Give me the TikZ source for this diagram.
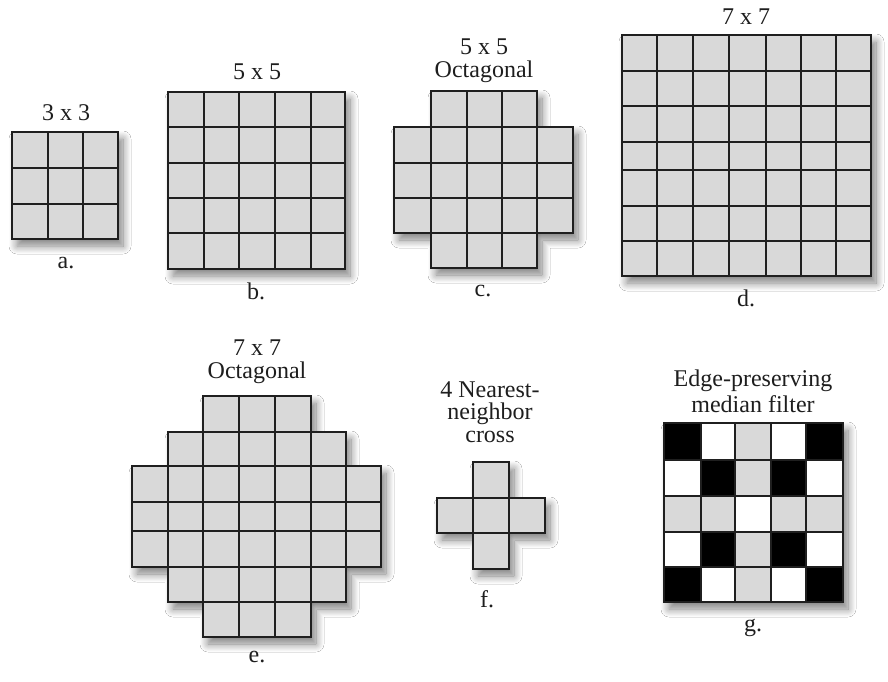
\documentclass[tikz,border=0pt]{standalone}
\usepackage{fontspec}
\setmainfont{Liberation Serif}
\usetikzlibrary{shadows.blur}
\definecolor{cellgray}{RGB}{217,217,217}
\definecolor{txt}{RGB}{30,30,30}
\begin{document}
\begin{tikzpicture}[x=1pt,y=-1pt,
  gridline/.style={line width=2.2pt, draw=black!88, line cap=rect},
  cellfill/.style={fill=cellgray},
  shade/.style={blur shadow={shadow xshift=5pt, shadow yshift=-7pt, shadow blur radius=8pt, shadow blur steps=12, shadow opacity=50}},
  lbl/.style={font=\fontsize{24}{26}\selectfont, text=txt, inner sep=0pt}]
\useasboundingbox (0,0) rectangle (888,681);
\fill[white] (0,0) rectangle (888,681);

% a. 3x3
\fill[cellfill,shade] (12,132) rectangle (118,239);
\foreach \x in {48,83} \draw[gridline] (\x,132) -- (\x,239);
\foreach \y in {168,204} \draw[gridline] (12,\y) -- (118,\y);
\draw[gridline] (12,132) rectangle (118,239);
\node[lbl] (ta) at (66,113) {3 x 3};
\node[lbl] (la) at (66,263) {a.};

% b. 5x5
\fill[cellfill,shade] (168,92) rectangle (345,269);
\foreach \x in {204,239,275,311} \draw[gridline] (\x,92) -- (\x,269);
\foreach \y in {127,163,198,233} \draw[gridline] (168,\y) -- (345,\y);
\draw[gridline] (168,92) rectangle (345,269);
\node[lbl] (tb) at (257,72) {5 x 5};
\node[lbl] (lb) at (256,291) {b.};

% c. 5x5 octagonal
\def\octc{(431,91) -- (537,91) -- (537,127) -- (573,127) -- (573,233) -- (537,233) -- (537,268) -- (431,268) -- (431,233) -- (394,233) -- (394,127) -- (431,127) -- cycle}
\fill[cellfill,shade] \octc;
\begin{scope}
\clip \octc;
\foreach \x in {431,467,502,537} \draw[gridline] (\x,91) -- (\x,268);
\foreach \y in {127,163,198,233} \draw[gridline] (394,\y) -- (573,\y);
\end{scope}
\draw[gridline, line join=miter] \octc;
\node[lbl] (tc1) at (484,47) {5 x 5};
\node[lbl] (tc2) at (484,72) {Octagonal};
\node[lbl] (lc) at (483,291) {c.};

% d. 7x7
\fill[cellfill,shade] (622,35) rectangle (871,276);
\foreach \x in {657,693,729,766,801,836} \draw[gridline] (\x,35) -- (\x,276);
\foreach \y in {71,106,142,170,206,241} \draw[gridline] (622,\y) -- (871,\y);
\draw[gridline] (622,35) rectangle (871,276);
\node[lbl] (td) at (746,17) {7 x 7};
\node[lbl] (ld) at (746,298) {d.};

% e. 7x7 octagonal
\def\octe{(203,396) -- (311,396) -- (311,432) -- (346,432) -- (346,466) -- (381,466) -- (381,567) -- (346,567) -- (346,602) -- (311,602) -- (311,637) -- (203,637) -- (203,602) -- (168,602) -- (168,567) -- (132,567) -- (132,466) -- (168,466) -- (168,432) -- (203,432) -- cycle}
\fill[cellfill,shade] \octe;
\begin{scope}
\clip \octe;
\foreach \x in {168,203,239,275,311,346} \draw[gridline] (\x,396) -- (\x,637);
\foreach \y in {432,466,502,531,567,602} \draw[gridline] (132,\y) -- (381,\y);
\end{scope}
\draw[gridline, line join=miter] \octe;
\node[lbl] (te1) at (257,348) {7 x 7};
\node[lbl] (te2) at (257,373) {Octagonal};
\node[lbl] (le) at (257,657) {e.};

% f. cross
\def\crossf{(473,462) -- (509,462) -- (509,498) -- (545,498) -- (545,533) -- (509,533) -- (509,569) -- (473,569) -- (473,533) -- (437,533) -- (437,498) -- (473,498) -- cycle}
\fill[cellfill,shade] \crossf;
\draw[gridline] (473,498) -- (473,533);
\draw[gridline] (509,498) -- (509,533);
\draw[gridline] (473,498) -- (509,498);
\draw[gridline] (473,533) -- (509,533);
\draw[gridline, line join=miter] \crossf;
\node[lbl] (tf1) at (490,390) {4 Nearest-};
\node[lbl] (tf2) at (490,414) {neighbor};
\node[lbl] (tf3) at (490,437) {cross};
\node[lbl] (lf) at (487,599) {f.};

% g. edge-preserving median filter
\fill[cellfill,shade] (664,423) rectangle (843,602);
\fill[black] (664,423) rectangle (701,460) (806,423) rectangle (843,460)
  (701,460) rectangle (735,496) (771,460) rectangle (806,496)
  (701,532) rectangle (735,567) (771,532) rectangle (806,567)
  (664,567) rectangle (701,602) (806,567) rectangle (843,602);
\fill[white] (701,423) rectangle (735,460) (771,423) rectangle (806,460)
  (664,460) rectangle (701,496) (806,460) rectangle (843,496)
  (735,496) rectangle (771,532)
  (664,532) rectangle (701,567) (806,532) rectangle (843,567)
  (701,567) rectangle (735,602) (771,567) rectangle (806,602);
\foreach \x in {701,735,771,806} \draw[gridline] (\x,423) -- (\x,602);
\foreach \y in {460,496,532,567} \draw[gridline] (664,\y) -- (843,\y);
\draw[gridline] (664,423) rectangle (843,602);
\node[lbl] (tg1) at (753,381) {Edge-preserving};
\node[lbl] (tg2) at (753,404) {median filter};
\node[lbl] (lg) at (753,628) {g.};
\end{tikzpicture}
\end{document}
